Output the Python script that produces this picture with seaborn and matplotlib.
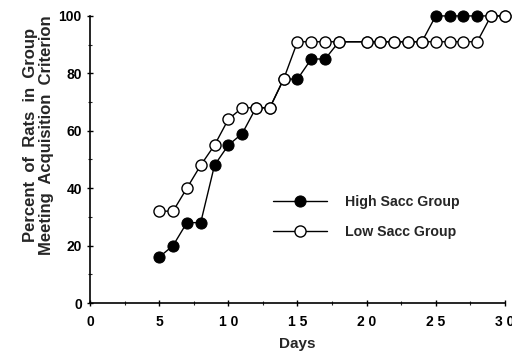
import pandas as pd
import matplotlib
matplotlib.use('Agg')
import matplotlib.pyplot as plt
import seaborn as sns

# Data
high_days = [5, 6, 7, 8, 9, 10, 11, 12, 13, 14, 15, 16, 17, 18, 20, 21, 22, 23, 24, 25, 26, 27, 28, 29, 30]
high_pct = [16, 20, 28, 28, 48, 55, 59, 68, 68, 78, 78, 85, 85, 91, 91, 91, 91, 91, 91, 100, 100, 100, 100, 100, 100]
low_days = [5, 6, 7, 8, 9, 10, 11, 12, 13, 14, 15, 16, 17, 18, 20, 21, 22, 23, 24, 25, 26, 27, 28, 29, 30]
low_pct = [32, 32, 40, 48, 55, 64, 68, 68, 68, 78, 91, 91, 91, 91, 91, 91, 91, 91, 91, 91, 91, 91, 91, 100, 100]
x_ticks = [0, 5, 10, 15, 20, 25, 30]
x_labels = ['0', '5', '1 0', '1 5', '2 0', '2 5', '3 0']
y_ticks = [0, 20, 40, 60, 80, 100]

high = pd.DataFrame({'Days': high_days, 'Pct': high_pct})
low = pd.DataFrame({'Days': low_days, 'Pct': low_pct})

sns.set_style('ticks')
plt.rcParams['font.family'] = ['Liberation Sans', 'DejaVu Sans']
plt.rcParams['font.weight'] = 'bold'

fig = plt.figure(figsize=(5.12, 3.54), dpi=100)
ax = fig.add_axes([0.176, 0.144, 0.81, 0.811])

sns.lineplot(data=high, x='Days', y='Pct', ax=ax, color='black', linewidth=1,
             marker='o', markersize=8, markerfacecolor='black', markeredgecolor='black',
             label='High Sacc Group', clip_on=False)
sns.lineplot(data=low, x='Days', y='Pct', ax=ax, color='black', linewidth=1,
             marker='o', markersize=8, markerfacecolor='white', markeredgecolor='black',
             markeredgewidth=1, label='Low Sacc Group', clip_on=False)

ax.set_xlim(0, 30)
ax.set_ylim(0, 100)
ax.set_xticks(x_ticks)
ax.set_xticklabels(x_labels)
ax.set_yticks(y_ticks)
ax.set_xticks([2.5, 7.5, 12.5, 17.5, 22.5, 27.5], minor=True)
ax.set_yticks([10, 30, 50, 70, 90], minor=True)
ax.tick_params(axis='both', which='major', direction='inout', length=5, width=1,
               labelsize=10, colors='black')
ax.tick_params(axis='x', which='major', pad=6)
ax.tick_params(axis='both', which='minor', direction='inout', length=3, width=0.8)
for lbl in ax.get_xticklabels() + ax.get_yticklabels():
    lbl.set_fontweight('bold')

for s in ['top', 'right']:
    ax.spines[s].set_visible(False)
for s in ['left', 'bottom']:
    ax.spines[s].set_linewidth(1.2)
    ax.spines[s].set_color('black')

ax.set_xlabel('Days', fontsize=11, fontweight='bold', labelpad=6)
ax.set_ylabel('Percent  of  Rats  in  Group\nMeeting  Acquisition  Criterion', fontsize=12,
              fontweight='bold', linespacing=1.15)
ax.yaxis.set_label_coords(-0.086, 0.585)

ax.legend(loc='center left', bbox_to_anchor=(0.41, 0.30), frameon=False,
          handlelength=3.8, handletextpad=1.3, labelspacing=1.1,
          prop={'weight': 'bold', 'size': 10.2})

fig.savefig('out.png', dpi=100)
